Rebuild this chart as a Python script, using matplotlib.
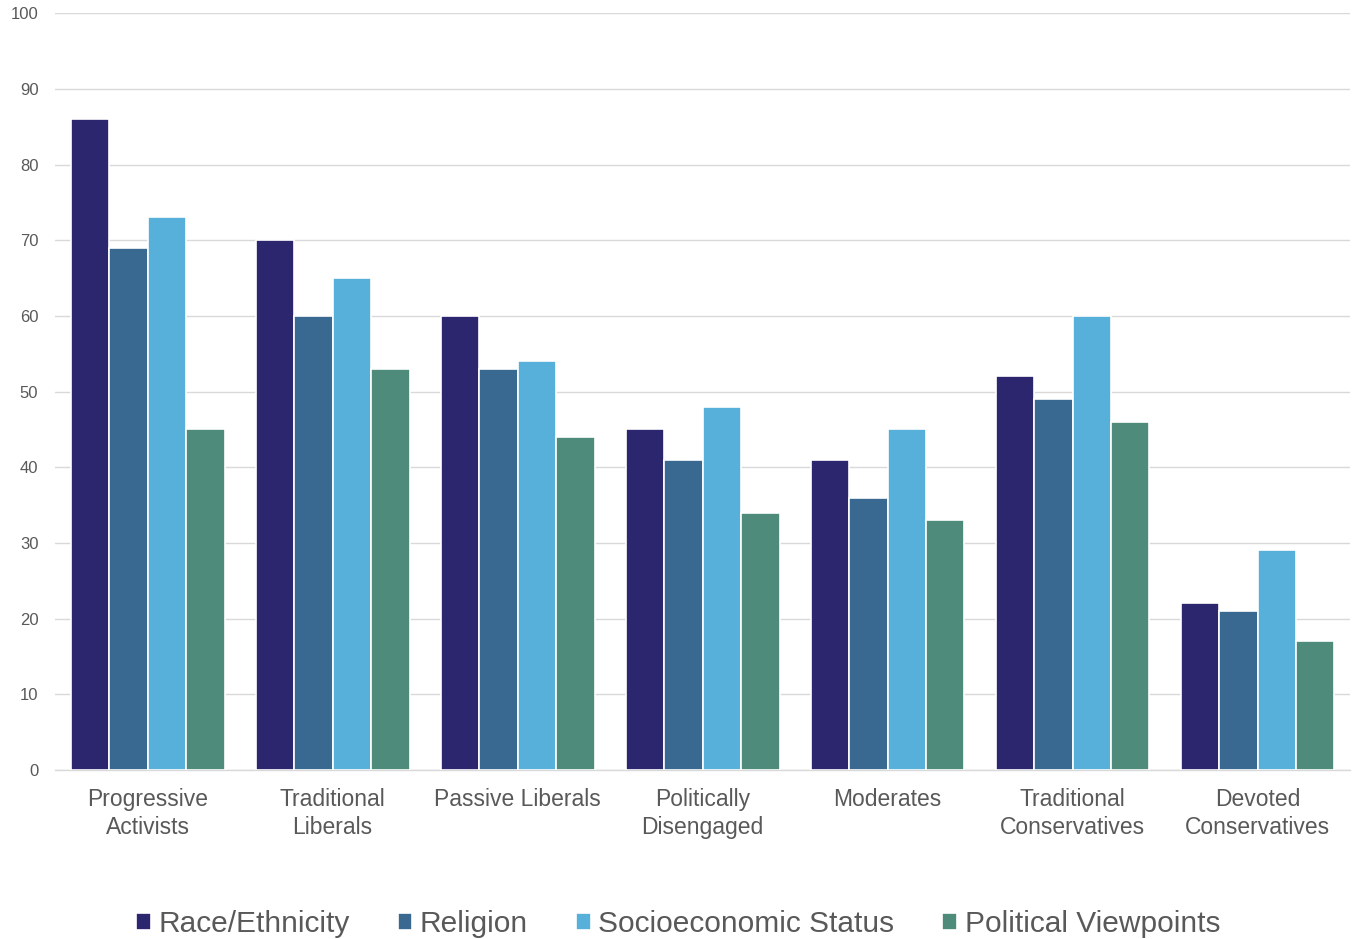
import matplotlib.pyplot as plt
import numpy as np

# Share of each segment (percent) by category of diversity
segments = ["Progressive\nActivists", "Traditional\nLiberals", "Passive Liberals",
            "Politically\nDisengaged", "Moderates", "Traditional\nConservatives",
            "Devoted\nConservatives"]
race_ethnicity = [86, 70, 60, 45, 41, 52, 22]
religion = [69, 60, 53, 41, 36, 49, 21]
socioeconomic = [73, 65, 54, 48, 45, 60, 29]
political = [45, 53, 44, 34, 33, 46, 17]

series = [
    ("Race/Ethnicity", race_ethnicity, "#2B266D"),
    ("Religion", religion, "#396891"),
    ("Socioeconomic Status", socioeconomic, "#56B0DA"),
    ("Political Viewpoints", political, "#4E8B7A"),
]

plt.rcParams['font.family'] = ['Liberation Sans', 'DejaVu Sans']
grey = "#595959"

fig = plt.figure(figsize=(13.56, 9.39), dpi=100)
ax = fig.add_axes([0.0406, 0.18, 0.955, 0.806])

x = np.arange(len(segments))
width = 0.208
for i, (name, vals, color) in enumerate(series):
    ax.bar(x + (i - 1.5) * width, vals, width, color=color, label=name,
           edgecolor="white", linewidth=1.2, zorder=3)

ax.set_xlim(-0.5, len(segments) - 0.5)
ax.set_ylim(0, 100)
ax.set_yticks(range(0, 101, 10))
ax.set_xticks(x)
ax.set_xticklabels(segments, fontsize=16.5, color=grey, linespacing=1.25)
ax.tick_params(axis="y", length=0, labelsize=12, labelcolor=grey, pad=12)
ax.tick_params(axis="x", length=0, pad=13)

ax.grid(axis="y", color="#D9D9D9", linewidth=1, zorder=0)
for side in ["top", "right", "left"]:
    ax.spines[side].set_visible(False)
ax.spines["bottom"].set_color("#D9D9D9")
ax.spines["bottom"].set_linewidth(1)

leg = fig.legend(loc="center", bbox_to_anchor=(0.5, 0.016), ncol=4, frameon=False,
                 fontsize=21.5, handlelength=0.5, handleheight=0.5, handletextpad=0.25,
                 columnspacing=1.6)
for t in leg.get_texts():
    t.set_color(grey)

fig.savefig("out.png", dpi=100)
